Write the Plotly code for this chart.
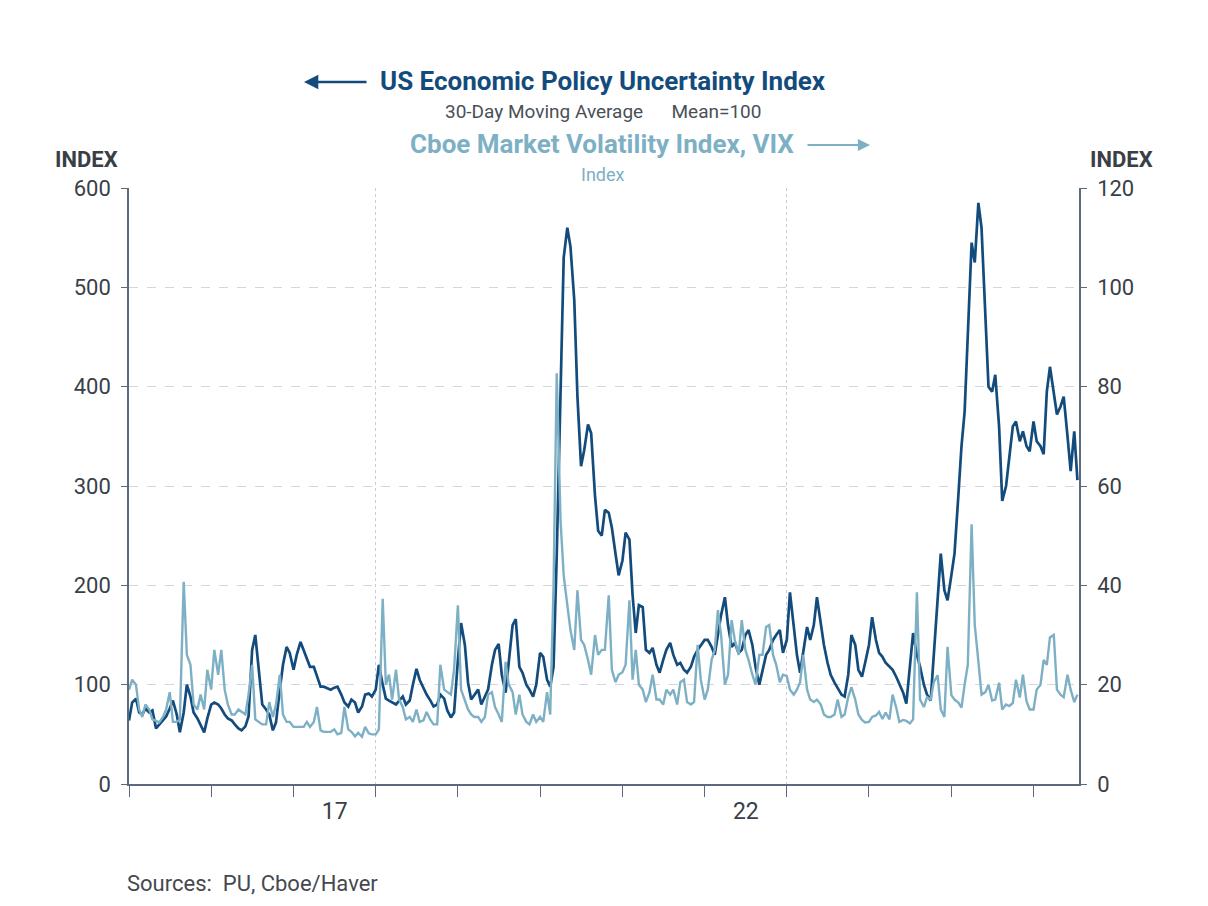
import pandas as pd
import plotly.graph_objects as go

# ---------------- data (semi-monthly: 1st and 15th of each month) ----------------
YEARS = list(range(2015, 2027))

EPU_2015 = [64, 82, 86, 72, 70, 76, 72, 74, 56, 60, 64, 68, 76, 84, 70, 52, 72, 100, 88, 72, 66, 60, 52, 66]
EPU_2016 = [80, 82, 80, 76, 70, 66, 64, 60, 56, 54, 58, 68, 135, 150, 110, 80, 75, 70, 54, 62, 95, 120, 138, 132]
EPU_2017 = [115, 130, 143, 135, 125, 118, 118, 108, 98, 98, 96, 95, 97, 98, 90, 82, 78, 85, 82, 72, 78, 90, 91, 88]
EPU_2018 = [95, 120, 100, 86, 84, 82, 80, 84, 88, 80, 84, 100, 116, 105, 97, 90, 84, 78, 80, 90, 86, 74, 67, 72]
EPU_2019 = [125, 162, 140, 102, 85, 90, 95, 80, 88, 95, 120, 135, 141, 110, 92, 120, 160, 166, 118, 112, 100, 95, 88, 100]
EPU_2020 = [132, 128, 105, 98, 118, 230, 390, 530, 560, 541, 487, 390, 320, 336, 362, 353, 290, 255, 250, 276, 273, 258, 232, 210]
EPU_2021 = [225, 253, 246, 190, 152, 180, 178, 135, 132, 137, 120, 112, 125, 135, 142, 130, 120, 122, 115, 112, 118, 128, 135, 140]
EPU_2022 = [145, 145, 138, 130, 150, 170, 188, 160, 138, 142, 132, 135, 150, 155, 140, 118, 100, 115, 130, 135, 145, 150, 155, 132]
EPU_2023 = [145, 193, 160, 130, 112, 135, 158, 145, 160, 188, 160, 140, 122, 110, 102, 96, 90, 88, 110, 150, 140, 115, 108, 122]
EPU_2024 = [140, 168, 145, 132, 128, 122, 118, 115, 108, 100, 92, 81, 120, 152, 130, 118, 100, 90, 84, 130, 190, 232, 195, 185]
EPU_2025 = [210, 232, 290, 340, 375, 460, 545, 525, 585, 560, 474, 400, 395, 412, 360, 285, 300, 330, 360, 365, 345, 355, 340, 335]
EPU_2026 = [365, 345, 340, 332, 395, 420, 395, 372, 380, 390, 350, 315, 355, 306]

VIX_2015 = [19, 21, 20, 15, 13.5, 16, 15, 13, 12.7, 12.4, 13.5, 15, 18.5, 12.5, 12.5, 13, 40.7, 26, 24, 16, 15, 18, 15, 23]
VIX_2016 = [19, 27, 22, 27, 19, 16, 14, 14, 15, 14.5, 14, 18, 24, 13, 12.5, 12, 12, 16.5, 13.5, 16, 22, 14, 12.5, 12.5]
VIX_2017 = [11.5, 11.5, 11.5, 11.5, 12.5, 11.5, 12.5, 15.5, 10.8, 10.5, 10.5, 10.5, 11, 10, 10.3, 15.5, 11, 10.5, 9.6, 10.3, 9.5, 11.5, 10.2, 10]
VIX_2018 = [10, 11, 37.3, 20, 22, 17, 23, 17, 15.5, 13, 13.5, 12.5, 15, 12.5, 12.8, 14.5, 12.9, 12, 12, 24, 19, 18.5, 18, 23]
VIX_2019 = [36, 19, 17, 15, 14, 13.5, 13.5, 12.5, 13.5, 18, 18.5, 15.5, 14, 12.5, 24.6, 20, 18.5, 14, 18, 14, 12.5, 12, 14, 12.5]
VIX_2020 = [13.5, 12.5, 18.5, 14, 40, 82.7, 53, 42, 36, 31, 27, 39, 29, 28, 25, 22, 30, 26, 27, 27, 38, 23, 20.5, 22]
VIX_2021 = [22.5, 24, 37, 21, 27, 20, 19, 16.5, 18.5, 22, 17, 17, 16, 19, 18, 19, 16, 20.5, 21, 16.5, 16, 16.5, 28, 21]
VIX_2022 = [17, 19, 25, 27, 35, 30, 20, 22, 33, 29, 26, 33, 27, 25, 22, 20, 26, 26, 31.6, 32, 26, 24, 20.5, 22]
VIX_2023 = [21.7, 19, 18, 19, 20.5, 26, 19, 17, 16.5, 17, 16, 14, 13.5, 13.5, 14, 17, 13.5, 14, 17.5, 19.5, 17, 14, 12.9, 12.4]
VIX_2024 = [12.5, 13.5, 13.8, 14.5, 13.1, 14.4, 13, 18, 15.4, 12.5, 12.9, 12.7, 12.2, 13, 38.6, 17, 15.5, 17.5, 17, 20.5, 21.9, 15, 13.5, 27.6]
VIX_2025 = [17.9, 17, 16.4, 15.4, 20, 24, 52.3, 32, 24.7, 18, 18.5, 20, 16.8, 17, 20.4, 15, 16, 15.7, 16.3, 21, 17.4, 22, 16.6, 15]
VIX_2026 = [15, 19, 20, 25, 24, 29.5, 30, 19, 18, 17.5, 22, 19, 16.5, 18]

EPU = (EPU_2015 + EPU_2016 + EPU_2017 + EPU_2018 + EPU_2019 + EPU_2020 +
       EPU_2021 + EPU_2022 + EPU_2023 + EPU_2024 + EPU_2025 + EPU_2026)
VIX = (VIX_2015 + VIX_2016 + VIX_2017 + VIX_2018 + VIX_2019 + VIX_2020 +
       VIX_2021 + VIX_2022 + VIX_2023 + VIX_2024 + VIX_2025 + VIX_2026)

DATES = [pd.Timestamp(y, m, d) for y in YEARS for m in range(1, 13) for d in (1, 15)]
DATES = DATES[:len(EPU)]

X_LABELS = ["17", "22"]
X_LABEL_YEARS = ["2018-01-01", "2023-01-01"]

# ---------------- styling ----------------
W, H = 1208, 906
L, R, T, B = 129, 1079, 188, 784
DARK = "#134B7D"
LIGHT = "#7DB0C4"
AXIS = "#5B6B7B"
TXT = "#3A3F47"
FONT = "Roboto, 'Liberation Sans', Arial, sans-serif"


def px(xp):
    return (xp - L) / (R - L)


def py(yp):
    return (B - yp) / (B - T)


fig = go.Figure()
fig.add_trace(go.Scatter(x=DATES, y=VIX, yaxis="y2", mode="lines",
                         line=dict(color=LIGHT, width=2.4), name="VIX"))
fig.add_trace(go.Scatter(x=DATES, y=EPU, yaxis="y", mode="lines",
                         line=dict(color=DARK, width=2.7), name="EPU"))

fig.update_layout(
    width=W, height=H,
    margin=dict(l=L, r=W - R, t=T, b=H - B, pad=0),
    paper_bgcolor="white", plot_bgcolor="white",
    showlegend=False,
    font=dict(family=FONT, color=TXT),
    xaxis=dict(
        type="date", range=["2015-01-01", "2026-07-22"],
        tickvals=X_LABEL_YEARS, ticktext=X_LABELS, ticklabelshift=-41,
        ticks="", showgrid=True, griddash="dot", gridcolor="#C9CDD2", gridwidth=1,
        showline=True, linecolor=AXIS, linewidth=1.5,
        tickfont=dict(size=23, color=TXT), ticklabelstandoff=6,
        minor=dict(dtick="M12", tick0="2015-01-01", ticks="outside", ticklen=11,
                   tickcolor=AXIS, tickwidth=1, showgrid=False),
        zeroline=False, fixedrange=True,
    ),
    yaxis=dict(
        range=[0, 600], tickvals=[0, 100, 200, 300, 400, 500, 600],
        ticks="outside", ticklen=6, tickcolor=AXIS,
        showline=True, linecolor=AXIS, linewidth=1.5,
        showgrid=True, gridcolor="#D3D6DA", griddash="dash", gridwidth=1,
        zeroline=False, tickfont=dict(size=22, color=TXT), ticklabelstandoff=6,
    ),
    yaxis2=dict(
        range=[0, 120], tickvals=[0, 20, 40, 60, 80, 100, 120],
        overlaying="y", side="right", anchor="x",
        ticks="outside", ticklen=6, tickcolor=AXIS,
        showline=True, linecolor=AXIS, linewidth=1.5,
        showgrid=False, zeroline=False, tickfont=dict(size=22, color=TXT),
        ticklabelstandoff=6,
    ),
)

ann = [
    dict(text="<b>US Economic Policy Uncertainty Index</b>", x=px(603), y=py(81),
         font=dict(size=26, color=DARK)),
    dict(text="30-Day Moving Average&nbsp;&nbsp;&nbsp;&nbsp;&nbsp; Mean=100", x=px(603), y=py(111),
         font=dict(size=19, color="#4A4F57")),
    dict(text="<b>Cboe Market Volatility Index, VIX</b>", x=px(602), y=py(144),
         font=dict(size=26, color=LIGHT)),
    dict(text="Index", x=px(603), y=py(174), font=dict(size=18, color=LIGHT)),
    dict(text="<b>INDEX</b>", x=px(86), y=py(160), font=dict(size=22, color=TXT)),
    dict(text="<b>INDEX</b>", x=px(1121), y=py(160), font=dict(size=22, color=TXT)),
    dict(text="Sources:&nbsp; PU, Cboe/Haver", x=px(125), y=py(883), xanchor="left",
         font=dict(size=22, color="#45494F")),
]
for a in ann:
    a.setdefault("xanchor", "center")
    fig.add_annotation(xref="paper", yref="paper", showarrow=False, yanchor="middle", **a)

# title arrows
fig.add_annotation(xref="paper", yref="paper", x=px(304), y=py(82), ax=64, ay=0,
                   text="", showarrow=True, arrowhead=2, arrowsize=1.1, arrowwidth=2.6,
                   arrowcolor=DARK)
fig.add_annotation(xref="paper", yref="paper", x=px(870), y=py(145), ax=-64, ay=0,
                   text="", showarrow=True, arrowhead=2, arrowsize=1.1, arrowwidth=2.2,
                   arrowcolor=LIGHT)

fig.write_html("out.html")
